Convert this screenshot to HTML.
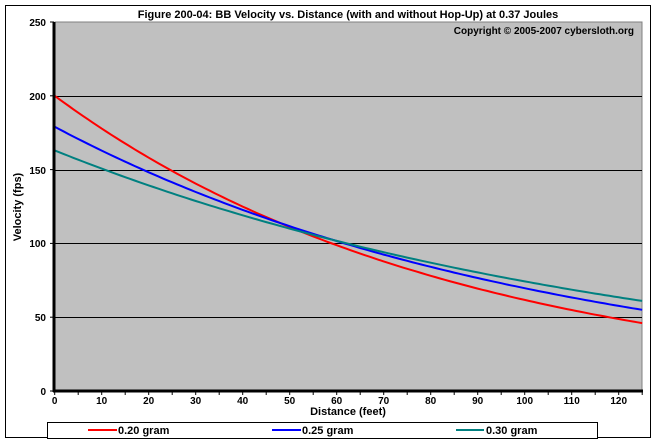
<!DOCTYPE html>
<html><head><meta charset="utf-8"><style>
body{margin:0;background:#fff;}
svg{display:block;font-family:"Liberation Sans",Arial,sans-serif;font-weight:bold;}
</style></head><body>
<svg id="s" width="657" height="443" viewBox="0 0 657 443" xmlns="http://www.w3.org/2000/svg">
<rect x="0" y="0" width="657" height="443" fill="#fff"/>
<rect x="5.5" y="5.5" width="645" height="432" fill="#fff" stroke="#000" stroke-width="1"/>
<rect x="55" y="22" width="587" height="369" fill="#c0c0c0" stroke="#808080" stroke-width="1"/>
<g stroke="#000" stroke-width="1">
<line x1="55" y1="96.5" x2="642" y2="96.5"/>
<line x1="55" y1="170.5" x2="642" y2="170.5"/>
<line x1="55" y1="243.5" x2="642" y2="243.5"/>
<line x1="55" y1="317.5" x2="642" y2="317.5"/>
</g>
<g id="curves" fill="none" stroke-width="2"></g>
<g stroke="#000">
<line x1="54" y1="22" x2="54" y2="392" stroke-width="3"/>
<line x1="53" y1="391" x2="643" y2="391" stroke-width="3"/>
</g>
<g id="ticks" stroke="#000" stroke-width="1"></g>
<g font-size="10" text-anchor="end">
<text x="46" y="26">250</text><text x="46" y="100">200</text><text x="46" y="174">150</text>
<text x="46" y="247">100</text><text x="46" y="321">50</text><text x="46" y="395">0</text>
</g>
<g id="xl" font-size="10" text-anchor="middle"></g>
<text x="348" y="18" font-size="11" text-anchor="middle">Figure 200-04:  BB Velocity vs. Distance (with and without Hop-Up) at 0.37 Joules</text>
<text x="634" y="34" font-size="10" text-anchor="end">Copyright © 2005-2007 cybersloth.org</text>
<text x="348" y="415" font-size="11" text-anchor="middle">Distance (feet)</text>
<text x="21" y="207" font-size="11" text-anchor="middle" transform="rotate(-90 21 207)">Velocity (fps)</text>
<rect x="47.5" y="422.5" width="550" height="16" fill="#fff" stroke="#000"/>
<line x1="88" y1="430" x2="117" y2="430" stroke="#ff0000" stroke-width="2"/>
<text x="118" y="434" font-size="11">0.20 gram</text>
<line x1="272" y1="430" x2="301" y2="430" stroke="#0000ff" stroke-width="2"/>
<text x="302" y="434" font-size="11">0.25 gram</text>
<line x1="456" y1="430" x2="484" y2="430" stroke="#008080" stroke-width="2"/>
<text x="486" y="434" font-size="11">0.30 gram</text>
</svg>
<script>
var NS="http://www.w3.org/2000/svg";
function X(v){return 54.7+v*4.7;} function Y(v){return 391-v*369/250;}
var c=document.getElementById("curves");
[[200,0.01176,"#ff0000"],[179,0.00944,"#0000ff"],[163,0.00786,"#008080"]].forEach(function(a){
 var p=[];for(var d=0;d<=125;d+=1)p.push(X(d).toFixed(1)+","+Y(a[0]*Math.exp(-a[1]*d)).toFixed(1));
 var e=document.createElementNS(NS,"polyline");e.setAttribute("points",p.join(" "));e.setAttribute("stroke",a[2]);c.appendChild(e);});
var t=document.getElementById("ticks"),xl=document.getElementById("xl");
for(var d=0;d<=125;d+=5){var l=document.createElementNS(NS,"line");l.setAttribute("x1",X(d));l.setAttribute("x2",X(d));l.setAttribute("y1",391);l.setAttribute("y2",395);t.appendChild(l);
 if(d%10==0){var tx=document.createElementNS(NS,"text");tx.setAttribute("x",X(d));tx.setAttribute("y",404);tx.textContent=d;xl.appendChild(tx);}}
for(var v=0;v<=250;v+=50){var l=document.createElementNS(NS,"line");l.setAttribute("x1",50);l.setAttribute("x2",54);l.setAttribute("y1",Y(v));l.setAttribute("y2",Y(v));t.appendChild(l);}
</script>
</body></html>
